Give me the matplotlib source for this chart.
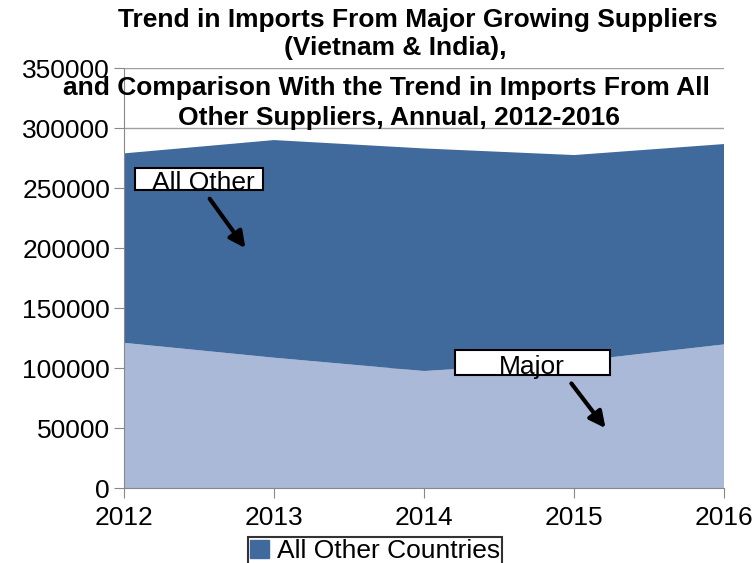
#Stacked area chart of imports: major growing suppliers vs all other suppliers
import matplotlib.pyplot as plt
from matplotlib.patches import Patch, Rectangle

plt.rcParams['font.family'] = ['Liberation Sans', 'DejaVu Sans']

#data
years = [2012, 2013, 2014, 2015, 2016]
major = [121000, 108600, 97500, 105500, 119700]
all_other = [157900, 181400, 185500, 172000, 167000]
y_ticks = [0, 50000, 100000, 150000, 200000, 250000, 300000, 350000]

dark = "#416A9C"
light = "#AAB9D7"

fig = plt.figure(figsize=(7.56, 5.63), dpi=100)
ax = fig.add_axes([0.164, 0.1332, 0.794, 0.7459])

#stack the two series
ax.stackplot(years, major, all_other, colors=[light, dark], zorder=2)

ax.set_xlim(2012, 2016)
ax.set_ylim(0, 350000)
ax.set_xticks(years)
ax.set_yticks(y_ticks)
ax.set_yticklabels([str(v) for v in y_ticks])
ax.tick_params(axis='both', labelsize=19, colors="#888888", labelcolor="black")
ax.tick_params(axis='y', length=7, pad=3)
ax.tick_params(axis='x', length=7, pad=6)
ax.grid(axis='y', color="#A0A0A0", linewidth=1, zorder=0)
ax.set_axisbelow(True)
for s in ["top", "right"]:
    ax.spines[s].set_visible(False)
for s in ["left", "bottom"]:
    ax.spines[s].set_color("#888888")

#title, one line at a time to follow the reference spacing
title_lines = ["Trend in Imports From Major Growing Suppliers",
               "(Vietnam & India),",
               "and Comparison With the Trend in Imports From All",
               "Other Suppliers, Annual, 2012-2016"]
title_pos = [(418, 20), (395, 48), (386, 88), (399, 118)]
for line, (px, py) in zip(title_lines, title_pos):
    fig.text(px / 756, 1 - py / 563, line, ha="center", va="center",
             fontsize=19, fontweight="bold")

#label boxes with arrows
arrow_style = dict(arrowstyle="-|>", color="black", lw=3, mutation_scale=24)
ax.add_patch(Rectangle((2012.073, 248300), 0.854, 18400, fc="white", ec="black",
                       lw=1.5, zorder=3))
ax.text(2012.527, 254000, "All Other", ha="center", va="center", fontsize=19, zorder=4)
ax.annotate("", xy=(2012.82, 198000), xytext=(2012.56, 243000),
            arrowprops=arrow_style, zorder=4)

ax.add_patch(Rectangle((2014.207, 94200), 1.033, 20800, fc="white", ec="black",
                       lw=1.5, zorder=3))
ax.text(2014.72, 100800, "Major", ha="center", va="center", fontsize=19, zorder=4)
ax.annotate("", xy=(2015.22, 48000), xytext=(2014.97, 89000),
            arrowprops=arrow_style, zorder=4)

#legend only shows the all other series
leg = fig.legend(handles=[Patch(color=dark, label="All Other Countries")],
                 loc="upper center", bbox_to_anchor=(0.496, 0.047), fontsize=19,
                 frameon=True, fancybox=False, handlelength=0.7, handleheight=0.7,
                 handletextpad=0.3, borderpad=0.1, borderaxespad=0)
leg.get_frame().set_edgecolor("black")
leg.get_frame().set_linewidth(1.5)

plt.savefig("out.png", dpi=100)
